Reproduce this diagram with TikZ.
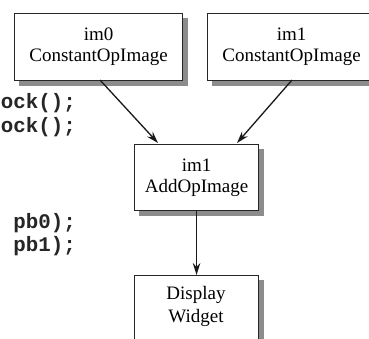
\documentclass[tikz,border=0pt]{standalone}
\usepackage{fontspec}
\setmainfont{Liberation Serif}
\newfontfamily\codefont{Liberation Mono}
\usetikzlibrary{arrows.meta,backgrounds}
\tikzset{
  opbox/.style={draw=black!85, line width=1.1pt, fill=white, anchor=north west,
    inner sep=0pt, align=center, font=\fontsize{19}{21}\selectfont},
  boxshadow/.style={fill=black!45},
  codetxt/.style={anchor=east, inner sep=0pt, text=black!85, font=\codefont\bfseries\fontsize{20.8}{24}\selectfont},
  flow/.style={line width=1.3pt, draw=black!90, -{Stealth[length=12pt,width=7.5pt]}}
}
\begin{document}
\begin{tikzpicture}[x=1pt,y=-1pt]
\useasboundingbox (0,0) rectangle (369,338);
\clip (0,0) rectangle (369,338);
\node[opbox, minimum width=168pt, minimum height=67pt] (c0) at (14,13) {im0\\ConstantOpImage};
\node[opbox, minimum width=168pt, minimum height=67pt] (c1) at (207,13) {im1\\ConstantOpImage};
\node[opbox, minimum width=124pt, minimum height=66pt] (add) at (134,144) {im1\\AddOpImage};
\node[opbox, minimum width=124pt, minimum height=80pt] (disp) at (134,275) {};
\node[align=center, inner sep=0pt, font=\fontsize{19}{22.5}\selectfont] (dlabel) at (196,306.5) {Display\\Widget};
\begin{scope}[on background layer]
\fill[white] (0,0) rectangle (369,338);
\foreach \b in {c0,c1,add,disp}{
  \fill[boxshadow] ([shift={(4.5,4.5)}]\b.north west) rectangle ([shift={(4.5,4.5)}]\b.south east);
}
\end{scope}
\coordinate (a0s) at (100,80);
\coordinate (a1s) at (292,80);
\coordinate (a0e) at (158,143);
\coordinate (a1e) at (237,143);
\draw[flow] (a0s) -- (a0e);
\draw[flow] (a1s) -- (a1e);
\draw[flow] (add.south) -- (disp.north);
\node[codetxt] (l1) at (76,103) {ock();};
\node[codetxt] (l2) at (76,127) {ock();};
\node[codetxt] (l3) at (76,223) {pb0);};
\node[codetxt] (l4) at (76,246) {pb1);};
\end{tikzpicture}
\end{document}
